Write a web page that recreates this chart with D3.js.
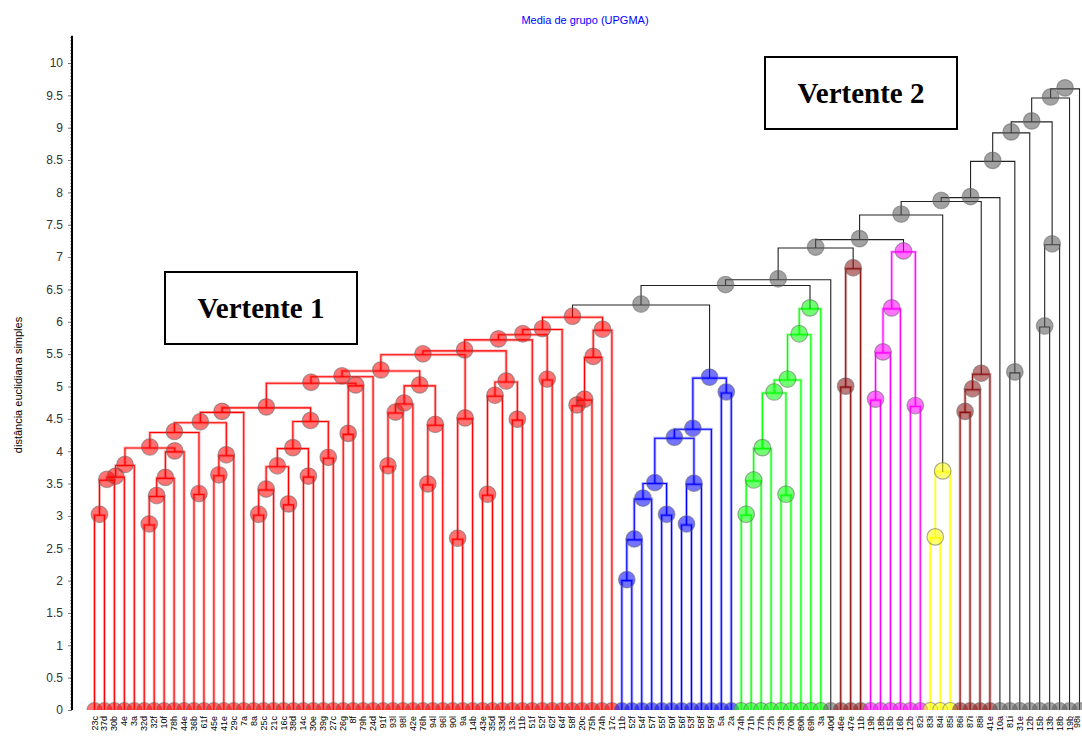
<!DOCTYPE html>
<html><head><meta charset="utf-8">
<script src="https://cdn.jsdelivr.net/npm/d3@7/dist/d3.min.js"></script>
<style>body{margin:0;background:#fff}svg{display:block}</style>
</head><body>
<svg id="c" width="1082" height="738"></svg>
<script>
// ---- data ----
const leafLabels = [
 "23c","37d","30b","4e","3a","32d","32f","10f","78h","44e",
 "36b","61f","45e","41e","29c","7a","8a","25c","21c","16c",
 "38d","14c","30e","39g","27c","26g","8f","79h","24d","91f",
 "93l","98l","42e","76h","94l","96l","90l","9a","14b","43e",
 "35d","33d","13c","11b","51f","52f","62f","64f","58f","20c",
 "75h","74h","17c","11b","52f","54f","57f","55f","50f","56f",
 "53f","58f","59f","5a","2a","74h","71h","77h","72h","73h",
 "70h","80h","69h","3a","40d","46e","47e","11b","19b","18b",
 "15b","16b","12b","82i","83i","84i","85i","86i","87i","88i",
 "41e","10a","81i","31e","12b","15b","13b","18b","19b","98i"
];
const clusterColorsList = ["#ff0000","#0000ff","#00ff00","#000000","#8b1010","#ff00ff","#ffff00","#8b1010","#000000"];
const clusterSizes      = [53, 12, 9, 1, 3, 6, 3, 4, 9];
// merges: [left, right, height]; 0..99 = leaves, 100+k = merge k
const merges = [
 [0,1,3.01],[100,2,3.55],[101,3,3.60],[102,4,3.78],[5,6,2.86],[104,7,3.30],[105,8,3.58],[106,9,3.99],
 [103,107,4.05],[10,11,3.33],[108,109,4.29],[12,13,3.62],[111,14,3.93],[110,112,4.44],[113,15,4.60],
 [16,17,3.01],[115,18,3.40],[19,20,3.17],[116,117,3.76],[21,22,3.60],[118,119,4.04],[23,24,3.89],
 [120,121,4.46],[114,122,4.67],[25,26,4.26],[124,27,5.01],[123,125,5.05],[126,28,5.15],
 [29,30,3.76],[128,31,4.59],[129,32,4.73],[33,34,3.48],[131,35,4.40],[130,132,5.01],[127,133,5.24],
 [36,37,2.64],[135,38,4.50],[134,136,5.49],[39,40,3.32],[138,41,4.85],[42,43,4.48],[139,140,5.07],
 [137,141,5.55],[142,44,5.72],[45,46,5.10],[143,144,5.80],[145,47,5.88],[48,49,4.70],[147,50,4.79],
 [148,51,5.45],[149,52,5.87],[146,150,6.07],
 [53,54,2.00],[152,55,2.63],[153,56,3.26],[57,58,3.01],[154,155,3.50],[59,60,2.86],[157,61,3.49],
 [156,158,4.20],[159,62,4.34],[63,64,4.90],[160,161,5.13],
 [65,66,3.01],[163,67,3.54],[164,68,4.04],[69,70,3.32],[165,166,4.90],[167,71,5.10],[168,72,5.80],[169,73,6.20],
 [75,76,4.99],[171,77,6.82],
 [78,79,4.79],[173,80,5.52],[174,81,6.20],[82,83,4.69],[175,176,7.08],
 [84,85,2.66],[178,86,3.68],
 [87,88,4.60],[180,89,4.95],[181,90,5.19],
 [92,93,5.21],[95,96,5.92],[184,97,7.19],
 [151,162,6.26],[186,170,6.56],[187,74,6.65],[188,172,7.14],[189,177,7.27],[190,179,7.65],
 [191,182,7.86],[192,91,7.92],[193,183,8.48],[194,94,8.92],[195,185,9.09],[196,98,9.46],[197,99,9.60]
];
const yTicks = d3.range(0, 10.001, 0.5);
const yMinor = d3.range(0, 10.41, 0.05);

// ---- chart ----
const svg = d3.select("#c");
const nLeaves = leafLabels.length;
const x = d3.scaleLinear().domain([0, nLeaves - 1]).range([94.5, 1079.5]);
const y = d3.scaleLinear().domain([0, 10]).range([710, 63]);

const leafColor = [];
clusterSizes.forEach((s, ci) => { for (let k = 0; k < s; k++) leafColor.push(clusterColorsList[ci]); });

const nodes = [];
for (let i = 0; i < nLeaves; i++) nodes.push({x: x(i), h: 0, color: leafColor[i], leaf: true});
merges.forEach(([a, b, h]) => {
  const L = nodes[a], R = nodes[b];
  nodes.push({x: (L.x + R.x) / 2, h, L, R, color: L.color === R.color ? L.color : "#000000", leaf: false});
});
const internal = nodes.filter(d => !d.leaf);

function fillOf(c) { return c === "#000000" ? "#555555" : c; }

// title
svg.append("text").attr("x", 585).attr("y", 24).attr("text-anchor", "middle")
  .attr("font-family", "Liberation Sans, Arial, sans-serif").attr("font-size", 11).attr("fill", "#0000ff")
  .text("Media de grupo (UPGMA)");

// y axis label
svg.append("text").attr("transform", "translate(22,385) rotate(-90)").attr("text-anchor", "middle")
  .attr("font-family", "Liberation Sans, Arial, sans-serif").attr("font-size", 11).attr("fill", "#000")
  .text("distância euclidiana simples");

// axes
const gMinor = svg.append("g").attr("transform", "translate(72,0)")
  .call(d3.axisLeft(y).tickValues(yMinor).tickSize(2).tickFormat(""));
gMinor.select(".domain").remove();
gMinor.selectAll("line").attr("stroke", "#999");
const gAx = svg.append("g").attr("transform", "translate(72,0)")
  .call(d3.axisLeft(y).tickValues(yTicks).tickSize(4).tickPadding(5).tickFormat(d3.format("~g")));
gAx.select(".domain").remove();
gAx.selectAll("line").attr("stroke", "#777");
gAx.selectAll("text").attr("font-family", "Liberation Sans, Arial, sans-serif").attr("font-size", 12).attr("fill", "#333");
svg.append("line").attr("x1", 72).attr("x2", 72).attr("y1", y(0)).attr("y2", y(10.42))
  .attr("stroke", "#000").attr("stroke-width", 2);

// links
const gLinks = svg.append("g").attr("fill", "none");
const linkPath = d => `M${d.L.x},${y(d.L.h)}V${y(d.h)}H${d.R.x}V${y(d.R.h)}`;
gLinks.selectAll("path.halo").data(internal.filter(d => d.color !== "#000000")).join("path")
  .attr("d", linkPath).attr("stroke", d => d.color).attr("stroke-opacity", 0.3).attr("stroke-width", 3);
gLinks.selectAll("path.core").data(internal).join("path")
  .attr("d", linkPath).attr("stroke", d => d.color === "#000000" ? "#222" : d.color).attr("stroke-width", 1.1);

// clip for leaf markers
svg.append("clipPath").attr("id", "clipLeaf").append("rect").attr("x", 0).attr("y", 0).attr("width", 1082).attr("height", y(0));

// node markers
svg.append("g").selectAll("circle").data(internal).join("circle")
  .attr("cx", d => d.x).attr("cy", d => y(d.h) - 1).attr("r", 8.3)
  .attr("fill", d => fillOf(d.color)).attr("fill-opacity", 0.55)
  .attr("stroke", "#666").attr("stroke-opacity", 0.55).attr("stroke-width", 1.2);

// leaf markers
svg.append("g").attr("clip-path", "url(#clipLeaf)").selectAll("circle").data(nodes.filter(d => d.leaf)).join("circle")
  .attr("cx", d => d.x).attr("cy", y(0)).attr("r", 7.5)
  .attr("fill", d => fillOf(d.color)).attr("fill-opacity", 0.55)
  .attr("stroke", "#666").attr("stroke-opacity", 0.55).attr("stroke-width", 1.2);

// leaf labels
svg.append("g").selectAll("text").data(leafLabels).join("text")
  .attr("transform", (d, i) => `translate(${Math.min(x(i) + 3, 1079.5)},716) rotate(-90)`)
  .attr("text-anchor", "end")
  .attr("font-family", "Liberation Sans, Arial, sans-serif").attr("font-size", 9).attr("fill", "#000")
  .text(d => d);

// annotation boxes
function box(x0, y0, w, h, t) {
  svg.append("rect").attr("x", x0).attr("y", y0).attr("width", w).attr("height", h)
    .attr("fill", "#fff").attr("stroke", "#000").attr("stroke-width", 2);
  svg.append("text").attr("x", x0 + w / 2).attr("y", y0 + h / 2 + 10).attr("text-anchor", "middle")
    .attr("font-family", "Liberation Serif, Times New Roman, serif").attr("font-weight", "bold")
    .attr("font-size", 29).attr("fill", "#000").text(t);
}
box(165, 272, 192, 72, "Vertente 1");
box(765, 57, 192, 72, "Vertente 2");
</script>
</body></html>
